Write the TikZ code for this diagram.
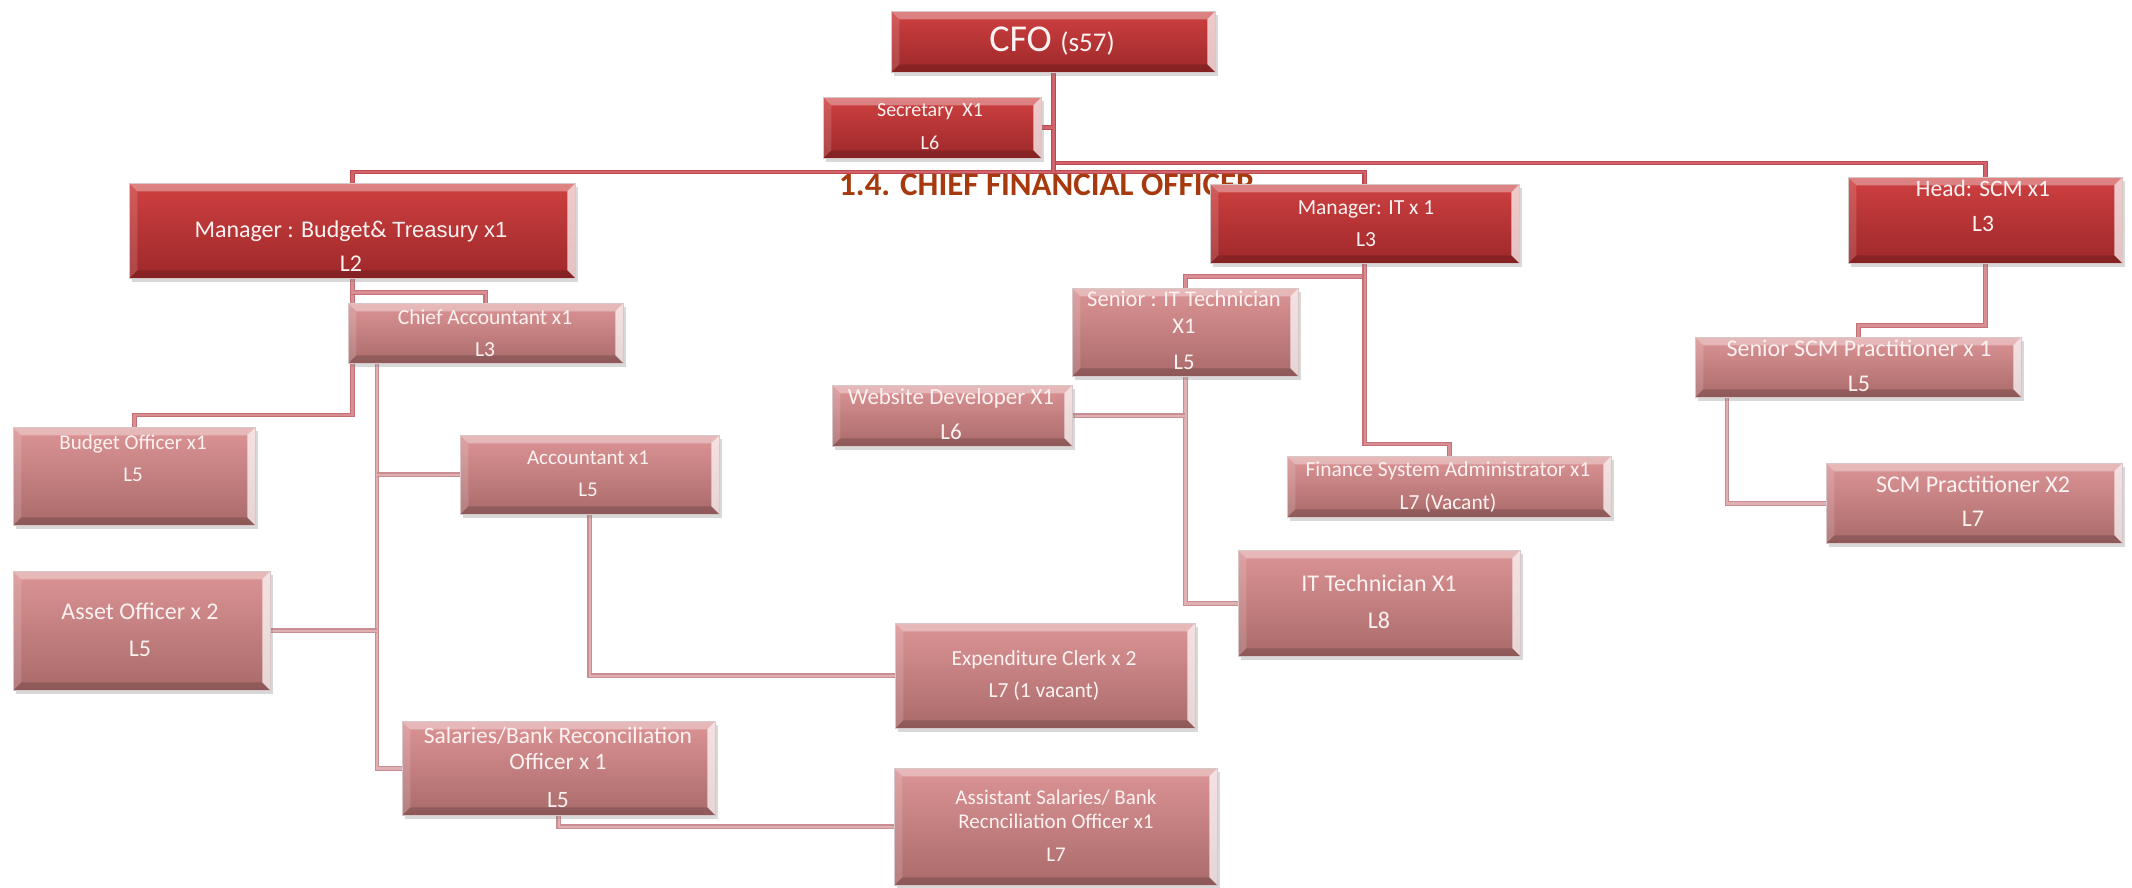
\documentclass[tikz,border=0pt]{standalone}
\usepackage{fontspec}
\setmainfont{Carlito}
\newfontfamily\arialf{Liberation Sans}
\usetikzlibrary{shadows,calc}

\definecolor{darktop}{RGB}{206,64,64}
\definecolor{darkbot}{RGB}{158,40,42}
\definecolor{lighttop}{RGB}{220,148,149}
\definecolor{lightbot}{RGB}{170,106,106}
\definecolor{boxedge}{RGB}{214,200,200}
\definecolor{boxtext}{RGB}{253,242,242}
\definecolor{titlecol}{RGB}{166,58,14}
\definecolor{topout}{RGB}{188,72,80}
\definecolor{topin}{RGB}{208,100,106}
\definecolor{midout}{RGB}{196,112,116}
\definecolor{midin}{RGB}{216,142,146}
\definecolor{subout}{RGB}{200,142,145}
\definecolor{subin}{RGB}{224,176,178}

\pgfdeclarelayer{paper}
\pgfdeclarelayer{wires}
\pgfsetlayers{paper,wires,main}

\tikzset{
  bevel/.style={path picture={
    \coordinate (pNW) at (path picture bounding box.north west);
    \coordinate (pNE) at (path picture bounding box.north east);
    \coordinate (pSW) at (path picture bounding box.south west);
    \coordinate (pSE) at (path picture bounding box.south east);
    \fill[white,opacity=.35] (pNW) -- (pNE) -- ([shift={(-8pt,-8pt)}]pNE) -- ([shift={(8pt,-8pt)}]pNW) -- cycle;
    \fill[white,opacity=.72] (pNE) -- (pSE) -- ([shift={(-8pt,8pt)}]pSE) -- ([shift={(-8pt,-8pt)}]pNE) -- cycle;
    \fill[black,opacity=.16] (pSE) -- (pSW) -- ([shift={(8pt,8pt)}]pSW) -- ([shift={(-8pt,8pt)}]pSE) -- cycle;
    \fill[white,opacity=.14] (pSW) -- (pNW) -- ([shift={(8pt,-8pt)}]pNW) -- ([shift={(8pt,8pt)}]pSW) -- cycle;
  }},
  basebox/.style={rectangle, inner sep=0pt, draw=boxedge, line width=0.6pt, bevel,
    drop shadow={shadow xshift=3pt, shadow yshift=-4pt, opacity=.3}},
  darkbox/.style={basebox, top color=darktop, bottom color=darkbot},
  lightbox/.style={basebox, top color=lighttop, bottom color=lightbot},
  txt/.style={text=boxtext, inner sep=0pt},
  toplink/.style={draw=topout, double=topin, double distance=2.6pt, line width=1.1pt},
  midlink/.style={draw=midout, double=midin, double distance=2.6pt, line width=1.1pt},
  sublink/.style={draw=subout, double=subin, double distance=2.6pt, line width=1.1pt},
  heading/.style={text=titlecol, inner sep=0pt, font=\fontsize{33}{33}\selectfont\bfseries},
}

% box: style, name, left, top, right, bottom (y grows downwards)
\newcommand\orgbox[6]{%
  \pgfmathsetmacro\bw{#5-#3}\pgfmathsetmacro\bh{#6-#4}%
  \node[#1, minimum width=\bw pt, minimum height=\bh pt, anchor=north west] (#2) at (#3,#4) {};}
% text line: name, x, baseline y, size, text
\newcommand\tl[5]{\node[txt, font=\fontsize{#4}{#4}\selectfont, anchor=base] (#1) at (#2,#3) {#5};}

\begin{document}
\begin{tikzpicture}[x=1pt,y=-1pt]
\useasboundingbox (0,0) rectangle (2132,888);
\begin{pgfonlayer}{paper}
\fill[white] (0,0) rectangle (2132,888);
\end{pgfonlayer}

% boxes
\orgbox{darkbox}{cfo}{891}{11}{1215}{72}
\orgbox{darkbox}{sec}{823}{97}{1041}{158}
\orgbox{darkbox}{mbt}{129}{183}{575}{278}
\orgbox{darkbox}{mit}{1210}{184}{1519}{263}
\orgbox{darkbox}{hscm}{1848}{177}{2122}{263}
\orgbox{lightbox}{chacc}{348}{303}{623}{363}
\orgbox{lightbox}{bud}{13}{427}{255}{525}
\orgbox{lightbox}{acc}{460}{435}{719}{514}
\orgbox{lightbox}{asset}{13}{571}{270}{690}
\orgbox{lightbox}{sal}{402}{721}{715}{815}
\orgbox{lightbox}{exp}{895}{623}{1195}{728}
\orgbox{lightbox}{asst}{894}{768}{1217}{885}
\orgbox{lightbox}{srit}{1072}{288}{1298}{376}
\orgbox{lightbox}{web}{832}{385}{1072}{446}
\orgbox{lightbox}{fsa}{1287}{456}{1611}{517}
\orgbox{lightbox}{itt}{1238}{550}{1520}{656}
\orgbox{lightbox}{sscm}{1695}{337}{2021}{397}
\orgbox{lightbox}{scmp}{1826}{463}{2122}{543}

% heading and connectors run behind the boxes
\begin{pgfonlayer}{wires}
\node[heading, anchor=base west] (ttl) at (839,195) {1.4. CHIEF FINANCIAL OFFICER};

\coordinate (busA) at (0,172);
\coordinate (busB) at (0,163);
\draw[toplink] (cfo.south |- busB) -| (hscm.north);
\draw[toplink] (mbt.north) |- (mit.north |- busA) -- (mit.north);
\draw[toplink] (cfo.south) -- (cfo.south |- busA);
\draw[toplink] (sec.east) -- (cfo.south |- sec.east);

\draw[midlink] (mbt.south) |- ([yshift=12pt]bud.north) -- (bud.north);
\draw[midlink] (mbt.south) -- ++(0,14) -| (chacc.north);
\draw[midlink] (mit.south) -- ++(0,13) -| (srit.north);
\draw[midlink] (mit.south) |- ([yshift=12pt]fsa.north) -- (fsa.north);
\draw[midlink] (hscm.south) -- ++(0,62) -| (sscm.north);

\coordinate (cas) at ([xshift=29pt]chacc.south west);
\draw[sublink] (cas) |- (sal.west);
\draw[sublink] (cas |- acc.west) -- (acc.west);
\draw[sublink] (asset.east) -- (asset.east -| cas);
\draw[sublink] (acc.south) |- (exp.west);
\draw[sublink] (sal.south) |- (asst.west);
\draw[sublink] (srit.south) |- (itt.west);
\draw[sublink] (srit.south |- web.east) -- (web.east);
\coordinate (sb) at ([xshift=32pt]sscm.south west);
\draw[sublink] (sb) |- (scmp.west);
\end{pgfonlayer}

% texts
\node[txt, anchor=base] (cfo-t) at (1052,52) {\fontsize{38}{38}\selectfont CFO \fontsize{27}{27}\selectfont(s57)};
\tl{sec-t1}{930}{116.4}{20}{Secretary\ \ X1}
\tl{sec-t2}{930}{149.4}{20}{L6}
\node[txt, anchor=base] (mbt-t1) at (351,237.7) {\fontsize{24}{24}\selectfont Manager : Budget\& {\arialf\fontsize{22}{22}\selectfont Treasury x1}};
\tl{mbt-t2}{351}{271.7}{24}{L2}
\tl{mit-t1}{1366}{214.4}{21.5}{Manager: IT x 1}
\tl{mit-t2}{1366}{246}{21.5}{L3}
\tl{hscm-t1}{1983}{196.5}{23.5}{Head: SCM x1}
\tl{hscm-t2}{1983}{231.5}{23.5}{L3}
\tl{chacc-t1}{485}{324}{21.5}{Chief Accountant x1}
\tl{chacc-t2}{485}{356}{21.5}{L3}
\tl{bud-t1}{133}{449.7}{21}{Budget Officer x1}
\tl{bud-t2}{133}{481.7}{21}{L5}
\tl{acc-t1}{588}{464.7}{21}{Accountant x1}
\tl{acc-t2}{588}{496.7}{21}{L5}
\tl{asset-t1}{140}{619.7}{24}{Asset Officer x 2}
\tl{asset-t2}{140}{656.7}{24}{L5}
\tl{sal-t1}{558}{743.5}{23.5}{Salaries/Bank Reconciliation}
\tl{sal-t2}{558}{769.5}{23.5}{Officer x 1}
\tl{sal-t3}{558}{807.5}{23.5}{L5}
\tl{exp-t1}{1044}{665}{21.5}{Expenditure Clerk x 2}
\tl{exp-t2}{1044}{697}{21.5}{L7 (1 vacant)}
\tl{asst-t1}{1056}{804.7}{21}{Assistant Salaries/ Bank}
\tl{asst-t2}{1056}{828.7}{21}{Recnciliation Officer x1}
\tl{asst-t3}{1056}{861.7}{21}{L7}
\tl{srit-t1}{1184}{306}{22.5}{Senior : IT Technician}
\tl{srit-t2}{1184}{333}{22.5}{X1}
\tl{srit-t3}{1184}{369}{22.5}{L5}
\tl{web-t1}{951}{404.9}{23}{Website Developer X1}
\tl{web-t2}{951}{439.9}{23}{L6}
\tl{fsa-t1}{1448}{476}{21.5}{Finance System Administrator x1}
\tl{fsa-t2}{1448}{509}{21.5}{L7 (Vacant)}
\tl{itt-t1}{1379}{591.7}{24}{IT Technician X1}
\tl{itt-t2}{1379}{628.7}{24}{L8}
\tl{sscm-t1}{1859}{356.7}{24}{Senior SCM Practitioner x 1}
\tl{sscm-t2}{1859}{391.7}{24}{L5}
\tl{scmp-t1}{1973}{492.7}{24}{SCM Practitioner X2}
\tl{scmp-t2}{1973}{526.7}{24}{L7}
\end{tikzpicture}
\end{document}
